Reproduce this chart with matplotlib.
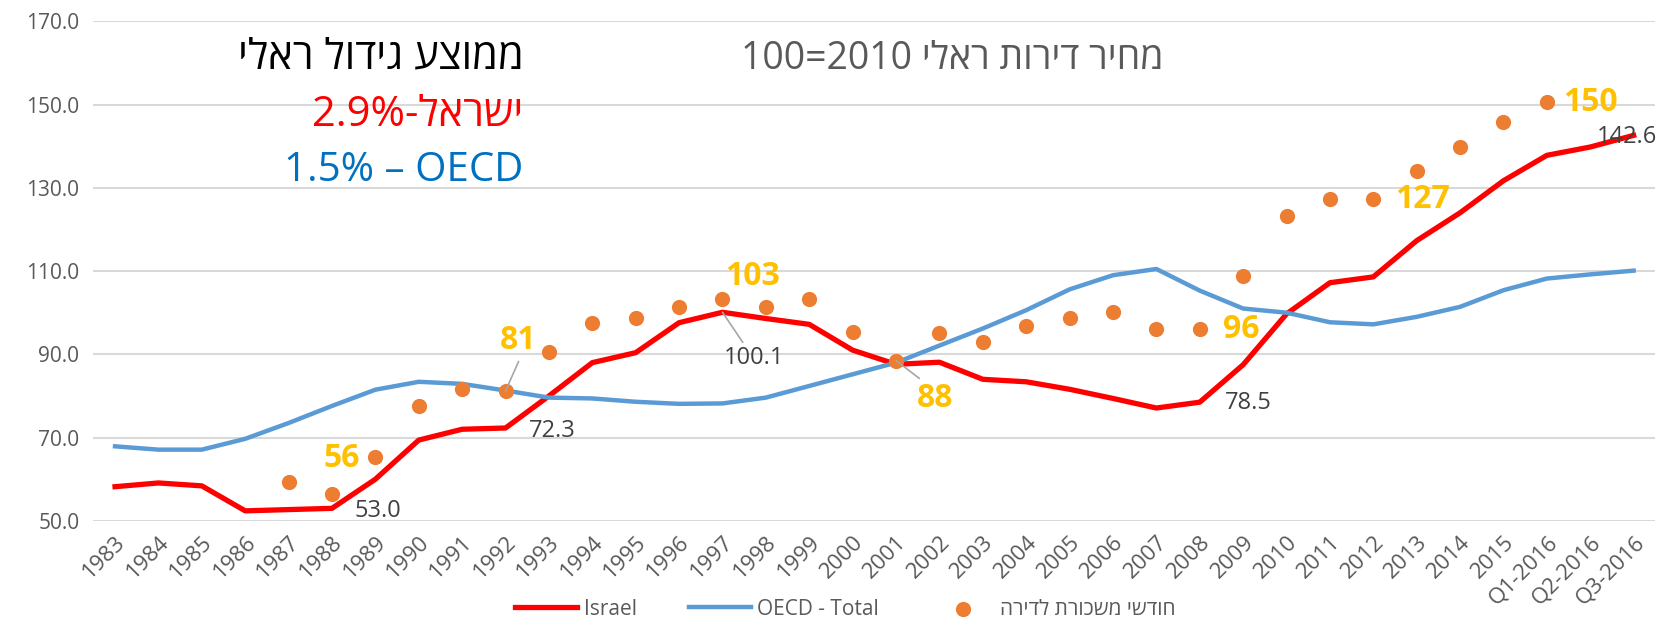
import numpy as np
import matplotlib
matplotlib.use("Agg")
import matplotlib.pyplot as plt

plt.rcParams['font.family'] = ['Open Sans', 'DejaVu Sans']

def rtl(s):
    # matplotlib has no bidi support, so Hebrew is given in visual order
    return s[::-1]

years = [str(y) for y in range(1983, 2016)] + ['Q1-2016', 'Q2-2016', 'Q3-2016']

israel = [58.2, 59.1, 58.4, 52.4, 52.7, 53.0, 60.0, 69.4, 72.0, 72.3, 80.0, 88.0,
          90.4, 97.6, 100.1, 98.6, 97.2, 91.0, 87.6, 88.1, 84.0, 83.4, 81.6, 79.4,
          77.1, 78.5, 87.5, 99.7, 107.2, 108.6, 117.3, 124.0, 131.7, 137.8, 139.8, 142.6]

oecd = [67.9, 67.1, 67.1, 69.7, 73.5, 77.6, 81.5, 83.4, 82.9, 81.3, 79.6, 79.4,
        78.6, 78.1, 78.2, 79.6, 82.4, 85.2, 88.0, 92.1, 96.2, 100.6, 105.6, 109.0,
        110.5, 105.3, 101.0, 100.0, 97.7, 97.2, 99.0, 101.4, 105.4, 108.2, 109.2, 110.1]

rent_idx = list(range(4, 34))  # 1987 .. Q1-2016
rent = [59.4, 56.4, 65.3, 77.6, 81.7, 81.2, 90.6, 97.5, 98.8, 101.4, 103.3, 101.3,
        103.3, 95.3, 88.5, 95.1, 93.0, 96.8, 98.8, 100.1, 96.1, 96.0, 108.9, 123.3,
        127.3, 127.2, 134.1, 139.8, 145.7, 150.6]

israel_labels = {5: '53.0', 9: '72.3', 14: '100.1', 25: '78.5', 35: '142.6'}
rent_labels = {5: '56', 9: '81', 14: '103', 18: '88', 25: '96', 29: '127', 33: '150'}

fig = plt.figure(figsize=(16.67, 6.26), dpi=100)
ax = fig.add_axes([0.056, 0.168, 0.937, 0.798])

x = np.arange(len(years))
ax.plot(x, israel, color='#FF0000', lw=3.8, label='Israel', solid_joinstyle='round', zorder=3)
ax.plot(x, oecd, color='#5B9BD5', lw=3.2, label='OECD - Total', solid_joinstyle='round', zorder=3)
ax.scatter(rent_idx, rent, s=120, color='#ED7D31', label=rtl('חודשי משכורת לדירה'), zorder=4, linewidths=0)

ax.set_xlim(-0.5, len(years) - 0.5)
ax.set_ylim(50, 170)
ax.set_yticks(np.arange(50, 171, 20))
ax.set_yticklabels(['%.1f' % v for v in np.arange(50, 171, 20)])
ax.set_xticks(x)
ax.set_xticklabels(years, rotation=45, ha='right', rotation_mode='anchor')
ax.tick_params(axis='both', length=0, colors='#595959', labelsize=16)
ax.tick_params(axis='x', pad=8)
ax.tick_params(axis='y', pad=10, labelsize=15)
ax.grid(axis='y', color='#D9D9D9', lw=1.5)
ax.set_axisbelow(True)
for s in ax.spines.values():
    s.set_visible(False)

lead_style = dict(arrowstyle='-', color='#A6A6A6', lw=1.2, shrinkA=1, shrinkB=0)

# offsets in pixels (dx, dy)
isr_off = {5: (46, -3), 9: (47, -3), 14: (32, -46), 25: (49, -1), 35: (-7, -2)}
for i, txt in israel_labels.items():
    dx, dy = isr_off[i]
    arrow = dict(lead_style, relpos=(0.35, 1.0)) if i == 14 else None
    ax.annotate(txt, (x[i], israel[i]), xytext=(dx, dy), textcoords='offset pixels',
                ha='center', va='center', fontsize=17, color='#404040', zorder=5,
                arrowprops=arrow)

rent_off = {5: (10, 36), 9: (13, 50), 14: (30, 22), 18: (39, -38), 25: (41, 0), 29: (49, 0), 33: (44, 0)}
rent_rel = {9: (0.55, 0.0), 18: (0.2, 1.0)}
for i, txt in rent_labels.items():
    dx, dy = rent_off[i]
    yv = rent[rent_idx.index(i)]
    arrow = dict(lead_style, relpos=rent_rel[i]) if i in rent_rel else None
    ax.annotate(txt, (i, yv), xytext=(dx, dy), textcoords='offset pixels',
                ha='center', va='center', fontsize=23, fontweight='bold', color='#FFC000', zorder=5,
                arrowprops=arrow)

fig.text(0.314, 0.908, rtl('ממוצע גידול ראלי'), ha='right', va='center', fontsize=30, color='black')
fig.text(0.314, 0.816, '2.9%-' + rtl('ישראל'), ha='right', va='center', fontsize=30, color='#FF0000')
fig.text(0.314, 0.728, '1.5% – OECD', ha='right', va='center', fontsize=29, color='#0070C0')
fig.text(0.571, 0.905, '100=2010 ' + rtl('מחיר דירות ראלי'), ha='center', va='center', fontsize=27, color='#595959')

fig.legend(loc='lower center', bbox_to_anchor=(0.507, -0.02), ncol=3, frameon=False,
           fontsize=15, labelcolor='#595959', handlelength=3, columnspacing=2.5, handletextpad=0.3)

fig.savefig('out.png', dpi=100)
